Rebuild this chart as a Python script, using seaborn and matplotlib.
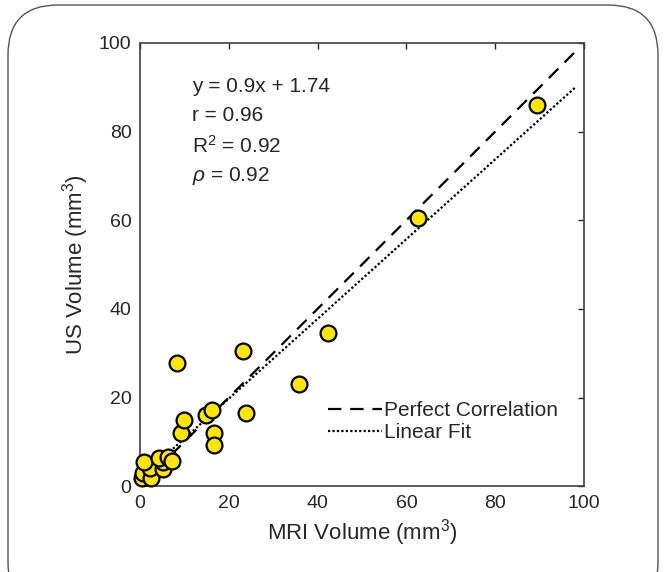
import numpy as np
import pandas as pd
import seaborn as sns
import matplotlib.pyplot as plt
from matplotlib.patches import FancyBboxPatch

# volumes (mm^3)
mri_volume = [0.4, 0.8, 2.4, 2.3, 0.9, 5.3, 5.3, 4.4, 6.4, 7.2,
              9.3, 10.0, 8.3, 15.0, 16.3, 16.7, 16.7, 23.3, 23.9, 35.8,
              42.4, 62.6, 89.4]
us_volume = [1.8, 2.9, 1.8, 4.0, 5.5, 3.9, 5.5, 6.3, 6.6, 5.7,
             12.0, 15.0, 27.7, 16.1, 17.3, 12.1, 9.3, 30.5, 16.4, 23.0,
             34.5, 60.5, 86.0]
fit_slope = 0.9
fit_intercept = 1.74
stats_lines = ["y = 0.9x + 1.74", "r = 0.96", "R$^2$ = 0.92", r"$\rho$ = 0.92"]
ticks = [0, 20, 40, 60, 80, 100]

sns.set_style("white")
plt.rcParams['font.family'] = ['Liberation Sans', 'DejaVu Sans']
plt.rcParams['mathtext.fontset'] = 'custom'
plt.rcParams['mathtext.rm'] = 'Liberation Sans'
plt.rcParams['mathtext.it'] = 'Liberation Sans:italic'

text_col = '#262626'
df = pd.DataFrame({'MRI': mri_volume, 'US': us_volume})

fig = plt.figure(figsize=(6.66, 5.72), dpi=100)
ax = fig.add_axes([0.210, 0.150, 0.667, 0.775])

# rounded frame around the figure
frame = FancyBboxPatch((0.08, -0.4), 6.50, 6.07,
                       boxstyle="round,pad=0,rounding_size=0.5",
                       transform=fig.dpi_scale_trans, fill=False,
                       edgecolor='#555555', linewidth=1.0)
fig.patches.append(frame)

xs = np.array([0, 98])
ax.plot(xs, xs, color='black', linestyle=(0, (6, 4)), linewidth=1.6,
        label='Perfect Correlation')
ax.plot(xs, fit_slope * xs + fit_intercept, color='black',
        linestyle=(0, (1, 1)), linewidth=1.6, label='Linear Fit')

sns.scatterplot(data=df, x='MRI', y='US', ax=ax, s=130, color='#FFE600',
                edgecolor='black', linewidth=1.6, zorder=3, legend=False,
                clip_on=False)

ax.set_xlim(0, 100)
ax.set_ylim(0, 100)
ax.set_xticks(ticks)
ax.set_yticks(ticks)
ax.tick_params(direction='in', length=4, width=1, colors=text_col,
               labelsize=14, top=True, right=True, pad=6)
for sp in ax.spines.values():
    sp.set_color('#404040')
    sp.set_linewidth(1.2)

ax.set_xlabel('MRI Volume (mm$^3$)', fontsize=16, color=text_col, labelpad=4)
ax.set_ylabel('US Volume (mm$^3$)', fontsize=16, color=text_col, labelpad=6)

baselines = [0.890, 0.824, 0.752, 0.689]
for txt, yb in zip(stats_lines, baselines):
    ax.text(0.117, yb, txt, transform=ax.transAxes, fontsize=15,
            color=text_col, va='baseline', ha='left')

ax.legend(loc='lower right', bbox_to_anchor=(0.96, 0.08), frameon=False,
          fontsize=15, handlelength=2.6, handletextpad=0.1,
          labelspacing=0.15, borderaxespad=0)

fig.savefig('out.png', dpi=100)
